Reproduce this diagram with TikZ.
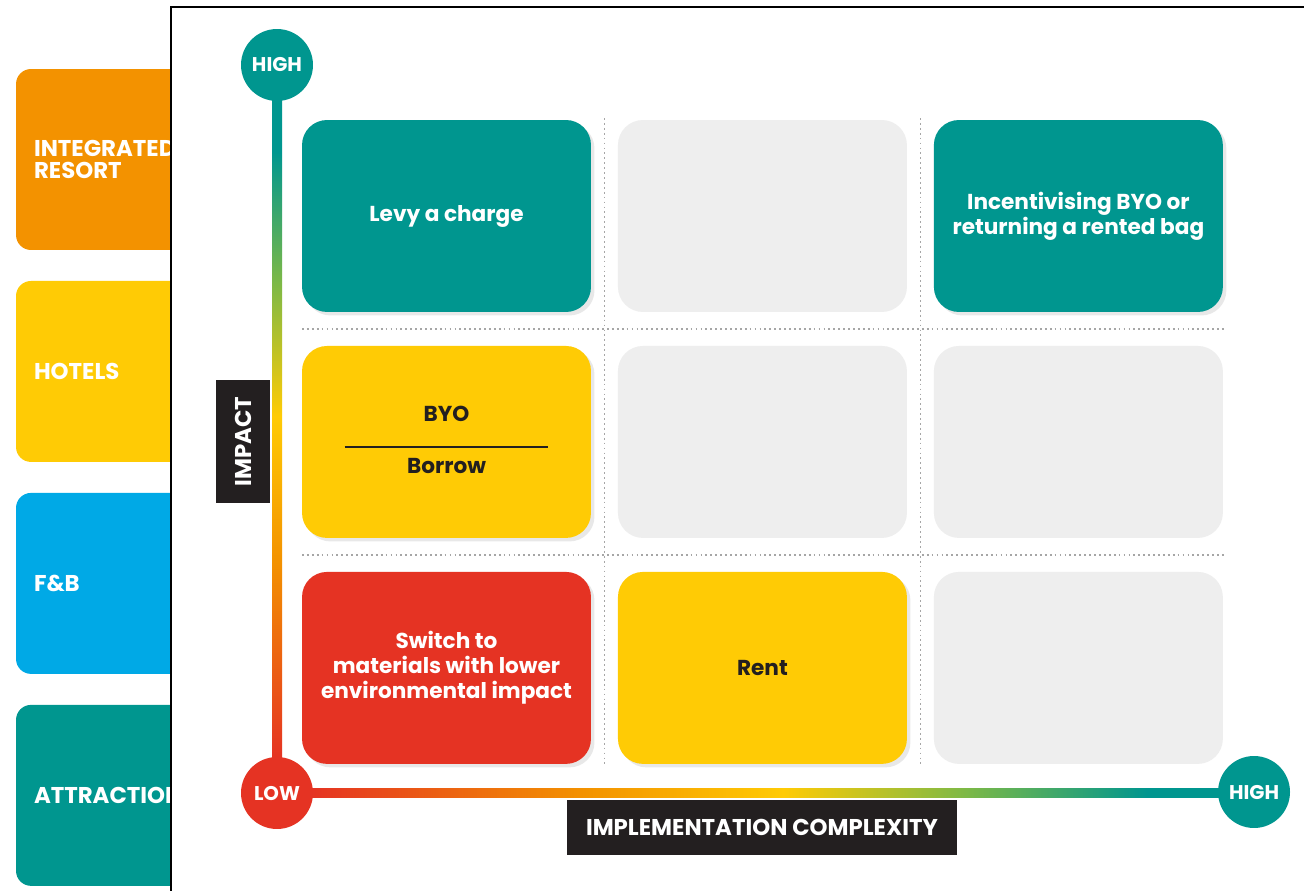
\documentclass[tikz,border=0pt]{standalone}
\usepackage{fontspec}
\setmainfont{Poppins}
\usetikzlibrary{positioning}
\usetikzlibrary{calc}
\usetikzlibrary{shadows}
\definecolor{mxteal}{RGB}{0,150,143}
\definecolor{mxorange}{RGB}{243,146,0}
\definecolor{mxyellow}{RGB}{255,203,5}
\definecolor{mxblue}{RGB}{0,169,230}
\definecolor{mxred}{RGB}{229,51,35}
\definecolor{mxgreen}{RGB}{125,185,70}
\definecolor{mxgray}{RGB}{238,238,238}
\definecolor{mxdark}{RGB}{35,31,32}
% red -> orange -> yellow -> green -> teal along the axes
\pgfdeclarehorizontalshading{axisfade}{100bp}{color(0bp)=(mxred); color(25bp)=(mxred);
    color(40bp)=(mxorange); color(51bp)=(mxyellow); color(61bp)=(mxgreen);
    color(71bp)=(mxteal); color(100bp)=(mxteal)}
\tikzset{
    tabbox/.style={
        rectangle,rounded corners=.3cm,
        fill=#1,text=white,
        font=\bfseries\fontsize{13}{12.5}\selectfont,
        minimum width=4.48cm,minimum height=3.62cm,
        text width=3.76cm,align=left,
        inner xsep=.36cm,outer sep=0pt,
        },
    cellbox/.style={
        rectangle,rounded corners=.5cm,
        fill=#1,text=white,
        font=\bfseries\fontsize{12.3}{14.2}\selectfont,
        minimum width=5.78cm,minimum height=3.84cm,
        align=center,outer sep=0pt,
        },
    shadowed/.style={
        drop shadow={opacity=.18,shadow xshift=.07cm,shadow yshift=-.07cm},
        },
    axiscirc/.style={
        circle,fill=#1,text=white,
        font=\bfseries\fontsize{11.3}{12}\selectfont,
        minimum size=1.44cm,inner sep=0pt,outer sep=0pt,
        },
    axislabel/.style={
        rectangle,fill=mxdark,text=white,
        font=\bfseries\fontsize{13}{13}\selectfont,
        inner sep=0pt,outer sep=0pt,
        },
    guide/.style={
        draw=black!35,line width=1pt,dash pattern=on 1pt off 1.8pt,
        },
    axisbar/.style={
        shading=axisfade,
        },
    darktext/.style={
        text=mxdark,font=\bfseries\fontsize{12.3}{14}\selectfont,inner sep=0pt,
        }
    }

\begin{document}
\begin{tikzpicture}[x=0.02cm,y=-0.02cm]
    \useasboundingbox (0,0) rectangle (1304,891);
    % sector tabs, partly hidden by the sheet
    \node[tabbox=mxorange] (ir) at (128,159.5) {INTEGRATED\\RESORT};
    \node[tabbox=mxyellow] (ho) [below=.62cm of ir] {HOTELS};
    \node[tabbox=mxblue] (fb) [below=.62cm of ho] {F\&B};
    \node[tabbox=mxteal] (at) [below=.62cm of fb] {ATTRACTION};
    \fill[white] (171,7) rectangle (1320,900);
    \draw[line width=1.6pt] (1320,7) -- (171,7) -- (171,900);
    % the 3x3 matrix
    \node[cellbox=mxteal,shadowed] (c11) at (446.5,216) {Levy a charge};
    \node[cellbox=mxgray] (c12) [right=.54cm of c11] {};
    \node[cellbox=mxteal,shadowed] (c13) [right=.54cm of c12] {Incentivising BYO or\\returning a rented bag};
    \node[cellbox=mxyellow,shadowed] (c21) [below=.68cm of c11] {};
    \node[cellbox=mxgray] (c22) [right=.54cm of c21] {};
    \node[cellbox=mxgray] (c23) [right=.54cm of c22] {};
    \node[cellbox=mxred,shadowed] (c31) [below=.68cm of c21] {Switch to\\materials with lower\\environmental impact};
    \node[cellbox=mxyellow,shadowed,text=mxdark] (c32) [right=.54cm of c31] {Rent};
    \node[cellbox=mxgray] (c33) [right=.54cm of c32] {};
    \node[darktext] (byo) at ($(c21.center)+(0,-28)$) {BYO};
    \node[darktext] (borrow) at ($(c21.center)+(0,24)$) {Borrow};
    \draw[mxdark,line width=.8pt] ($(c21.center)+(-102,5)$) -- ($(c21.center)+(101,5)$);
    \draw[guide] ($(c11.north east)!.5!(c12.north west)+(0,-2)$) -- ($(c31.south east)!.5!(c32.south west)+(0,2)$);
    \draw[guide] ($(c12.north east)!.5!(c13.north west)+(0,-2)$) -- ($(c32.south east)!.5!(c33.south west)+(0,2)$);
    \draw[guide] ($(c11.south west)!.5!(c21.north west)$) -- ($(c13.south east)!.5!(c23.north east)+(2,0)$);
    \draw[guide] ($(c21.south west)!.5!(c31.north west)$) -- ($(c23.south east)!.5!(c33.north east)+(2,0)$);
    % axes
    \node[axiscirc=mxteal] (yhigh) at (277,65) {HIGH};
    \node[axiscirc=mxred] (olow) at (277,793) {LOW};
    \node[axiscirc=mxteal] (xhigh) at (1254,792) {HIGH};
    \shade[axisbar,shading angle=90] ($(yhigh.south)+(-5,-2)$) rectangle ($(olow.north)+(5,2)$);
    \shade[axisbar] ($(olow.east)+(-2,-5)$) rectangle ($(xhigh.west)+(2,5)$);
    \node[axislabel,rotate=90,minimum width=2.46cm,minimum height=1.08cm] (impact) at (243,441.5) {IMPACT};
    \node[axislabel,minimum width=7.8cm,minimum height=1.1cm] (complexity) at (762,827.5) {IMPLEMENTATION COMPLEXITY};
\end{tikzpicture}
\end{document}
